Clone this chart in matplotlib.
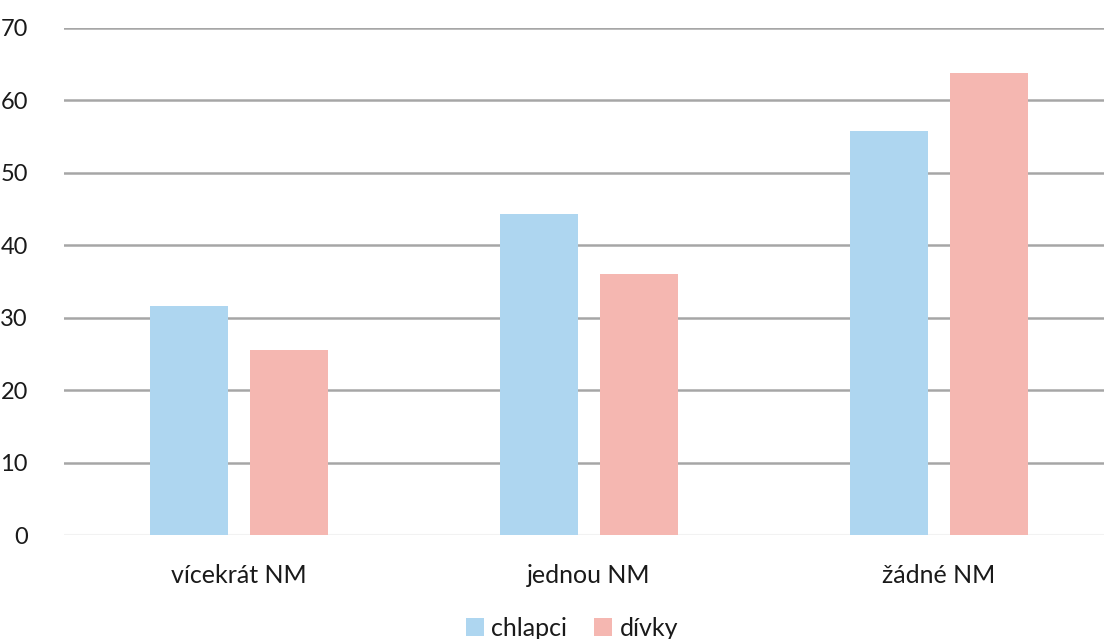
import numpy as np
import matplotlib.pyplot as plt

categories = ['vícekrát NM', 'jednou NM', 'žádné NM']
chlapci = [31.6, 44.3, 55.8]
divky = [25.6, 36.1, 63.8]
yticks = [0, 10, 20, 30, 40, 50, 60, 70]

plt.rcParams['font.family'] = ['Lato', 'DejaVu Sans']

fig = plt.figure(figsize=(11.04, 6.39), dpi=100)
ax = fig.add_axes([64/1104, 1 - 535/639, 1050/1104, (535 - 28)/639])

x = np.arange(len(categories))
w = 0.223
off = 0.143
ax.bar(x - off, chlapci, w, color='#AED6F0', label='chlapci', zorder=3)
ax.bar(x + off, divky, w, color='#F5B7B1', label='dívky', zorder=3)

ax.set_xlim(-0.5, 2.5)
ax.set_ylim(0, 70)
ax.set_yticks(yticks)
ax.set_yticklabels([str(t) for t in yticks])
for t in yticks[1:]:
    ax.axhline(t, color='#A6A6A6', lw=1.8, zorder=1)
ax.axhline(0, color='#F2F2F2', lw=1.5, zorder=1)

ax.set_xticks(x)
ax.set_xticklabels(categories)
ax.tick_params(axis='both', length=0, colors='#1a1a1a')
ax.tick_params(axis='y', pad=26, labelsize=17)
ax.tick_params(axis='x', pad=21, labelsize=18)
for s in ax.spines.values():
    s.set_visible(False)

fig.legend(loc='center', bbox_to_anchor=(572/1104, 1 - 628/639), ncol=2,
           frameon=False, fontsize=18, handlelength=0.7, handleheight=0.7,
           handletextpad=0.3, columnspacing=1.1, labelcolor='#1a1a1a')

fig.savefig('out.png', dpi=100)
